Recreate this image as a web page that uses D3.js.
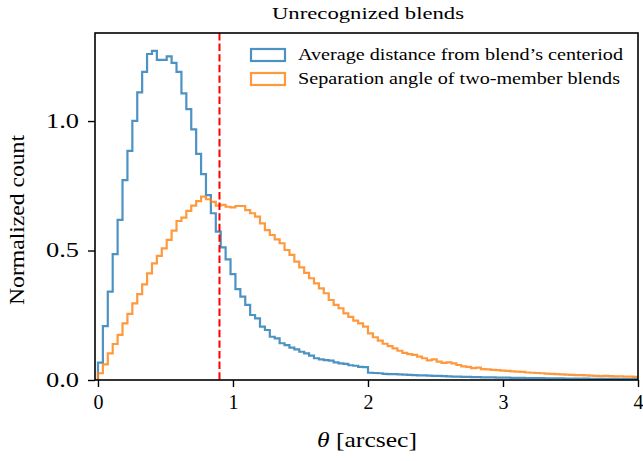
<!DOCTYPE html>
<html><head><meta charset="utf-8">
<script src="https://cdn.jsdelivr.net/npm/d3@7"></script>
<style>body{margin:0;background:#fff}svg{display:block}text{font-family:"Liberation Serif","DejaVu Serif",serif;fill:#000}</style>
</head><body><svg id="c" width="643" height="461"></svg>
<script>
const title = "Unrecognized blends";
const seriesNames = ["Average distance from blend\u2019s centeriod", "Separation angle of two-member blends"];
const nBins = 110, binMax = 4;
const avgDistance = [0.067,0.208,0.341,0.486,0.618,0.772,0.885,1.001,1.111,1.19,1.259,1.271,1.236,1.236,1.25,1.225,1.19,1.107,1.046,0.968,0.873,0.795,0.714,0.644,0.573,0.512,0.466,0.409,0.351,0.322,0.29,0.251,0.238,0.206,0.193,0.167,0.161,0.142,0.135,0.125,0.118,0.109,0.103,0.094,0.084,0.08,0.077,0.075,0.068,0.064,0.062,0.057,0.055,0.051,0.05,
0.028,0.027,0.026,0.024,0.023,0.023,0.022,0.021,0.020,0.019,0.018,0.018,0.017,0.016,0.016,0.015,0.014,0.013,0.013,0.012,0.012,0.011,0.011,0.010,0.010,0.010,0.009,0.009,0.009,0.008,0.008,0.008,0.007,0.007,0.007,0.007,0.006,0.006,0.006,0.006,0.005,0.005,0.005,0.005,0.005,0.004,0.004,0.004,0.004,0.004,0.004,0.003,0.003,0.003,0.003];
const sepAngle = [0.026,0.06,0.103,0.139,0.174,0.219,0.255,0.296,0.332,0.369,0.412,0.45,0.479,0.508,0.541,0.577,0.614,0.627,0.653,0.673,0.691,0.708,0.698,0.688,0.673,0.676,0.669,0.667,0.672,0.672,0.656,0.644,0.631,0.605,0.579,0.56,0.543,0.528,0.502,0.483,0.457,0.435,0.414,0.393,0.373,0.354,0.335,0.309,0.29,0.277,0.257,0.244,0.229,0.219,0.206,
0.18,0.165,0.152,0.14,0.131,0.122,0.113,0.105,0.1,0.097,0.09,0.084,0.076,0.08,0.071,0.066,0.068,0.064,0.058,0.053,0.051,0.046,0.048,0.042,0.041,0.039,0.038,0.036,0.035,0.033,0.032,0.031,0.029,0.028,0.027,0.026,0.025,0.024,0.023,0.022,0.021,0.02,0.019,0.019,0.018,0.017,0.016,0.015,0.016,0.015,0.014,0.014,0.013,0.013,0.012];
const threshold = 0.9;
const xTicks = [0,1,2,3,4];
const yTicks = [0.0,0.5,1.0];

const svg = d3.select("#c");
const L=95, R=638, T=33, B=380;
const x = d3.scaleLinear().domain([-0.022,4]).range([L,R]);
const y = d3.scaleLinear().domain([0,1.34]).range([B,T]);
const edges = d3.range(nBins+1).map(i => i*binMax/nBins);

svg.append("defs").append("clipPath").attr("id","clip").append("rect").attr("x",L).attr("y",T).attr("width",R-L).attr("height",B-T);

function stepPts(vals){
  const pts=[[edges[0],0]];
  vals.forEach((v,i)=>{pts.push([edges[i],v]);pts.push([edges[i+1],v]);});
  pts.push([edges[vals.length],0]);
  return pts;
}
const line = d3.line().x(d=>x(d[0])).y(d=>y(d[1]));
const colors = ["#1f77b4","#ff7f0e"];
const g = svg.append("g").attr("clip-path","url(#clip)");
[avgDistance, sepAngle].forEach((vals,i)=>{
  g.append("path").attr("d",line(stepPts(vals))).attr("fill","none")
   .attr("stroke",colors[i]).attr("stroke-opacity",0.8).attr("stroke-width",2.2).attr("stroke-linejoin","miter");
});
g.append("line").attr("x1",x(threshold)).attr("x2",x(threshold)).attr("y1",T).attr("y2",B)
 .attr("stroke","red").attr("stroke-width",2).attr("stroke-dasharray","7.4,3.2");

// axes
const xa = svg.append("g").attr("transform",`translate(0,${B})`)
  .call(d3.axisBottom(x).tickValues(xTicks).tickFormat(d3.format("d")).tickSize(7).tickPadding(8));
const ya = svg.append("g").attr("transform",`translate(${L},0)`)
  .call(d3.axisLeft(y).tickValues(yTicks).tickFormat(d3.format(".1f")).tickSize(7).tickPadding(9));
[xa,ya].forEach(a=>{a.select(".domain").remove();a.selectAll(".tick line").attr("stroke","#000").attr("stroke-width",1.4);
  a.selectAll("text").attr("font-family","'Liberation Serif',serif").attr("font-size",20).attr("fill","#000");});
xa.selectAll("text").attr("textLength",10).attr("lengthAdjust","spacingAndGlyphs");
ya.selectAll("text").attr("textLength",33).attr("lengthAdjust","spacingAndGlyphs");
svg.append("rect").attr("x",L).attr("y",T).attr("width",R-L).attr("height",B-T).attr("fill","none").attr("stroke","#000").attr("stroke-width",1.6);

svg.append("text").attr("x",368).attr("y",19).attr("text-anchor","middle").attr("font-size",17)
  .attr("textLength",192).attr("lengthAdjust","spacingAndGlyphs").text(title);
const xl = svg.append("text").attr("x",367).attr("y",447).attr("text-anchor","middle").attr("font-size",21)
  .attr("textLength",100).attr("lengthAdjust","spacingAndGlyphs");
xl.append("tspan").attr("font-style","italic").text("\u03b8");
xl.append("tspan").text(" [arcsec]");
svg.append("text").attr("transform","translate(24,220) rotate(-90)").attr("text-anchor","middle").attr("font-size",21)
  .attr("textLength",170).attr("lengthAdjust","spacingAndGlyphs").text("Normalized count");

// legend
const lg = svg.append("g");
const legendLen = [325, 322];
seriesNames.forEach((s,i)=>{
  const yy = 55 + i*24;
  lg.append("rect").attr("x",251).attr("y",yy-6).attr("width",34).attr("height",12).attr("fill","none")
    .attr("stroke",colors[i]).attr("stroke-opacity",0.8).attr("stroke-width",2.2);
  lg.append("text").attr("x",298).attr("y",yy+5).attr("font-size",17)
    .attr("textLength",legendLen[i]).attr("lengthAdjust","spacingAndGlyphs").text(s);
});
</script></body></html>
